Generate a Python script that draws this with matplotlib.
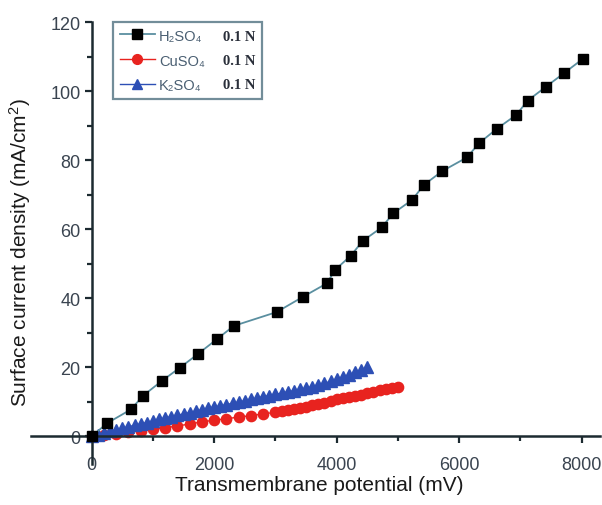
import matplotlib
matplotlib.use("Agg")
import matplotlib.pyplot as plt
from matplotlib.lines import Line2D

plt.rcParams['font.family'] = ['Liberation Sans', 'DejaVu Sans']
plt.rcParams['mathtext.fontset'] = 'custom'
plt.rcParams['mathtext.rm'] = 'Liberation Sans'
plt.rcParams['mathtext.it'] = 'Liberation Sans:italic'
plt.rcParams['mathtext.bf'] = 'Liberation Sans:bold'

# ---------------- data ----------------
h2so4_x = [0, 250, 640, 840, 1140, 1440, 1730, 2040, 2320, 3020, 3448, 3838, 3979,
           4229, 4425, 4734, 4924, 5233, 5423, 5722, 6129, 6324, 6617, 6933, 7117,
           7421, 7720, 8018]
h2so4_y = [0, 3.8, 7.8, 11.8, 16.0, 19.9, 23.8, 28.1, 32.0, 36.0, 40.4, 44.3, 48.3,
           52.3, 56.6, 60.5, 64.6, 68.5, 72.8, 76.8, 80.8, 84.9, 89.1, 93.1, 97.2,
           101.3, 105.3, 109.3]

k2so4_x = [0, 100, 200, 300, 400, 500, 600, 700, 800, 900, 1000, 1100, 1200, 1300,
           1400, 1500, 1600, 1700, 1800, 1900, 2000, 2100, 2200, 2300, 2400, 2500,
           2600, 2700, 2800, 2900, 3000, 3100, 3200, 3300, 3400, 3500, 3600, 3700,
           3800, 3900, 4000, 4100, 4200, 4300, 4400, 4500]
k2so4_y = [0, 0.5, 1.0, 1.5, 1.9, 2.3, 2.8, 3.2, 3.6, 4.0, 4.4, 4.9, 5.3, 5.7,
           6.1, 6.5, 6.9, 7.3, 7.7, 8.1, 8.5, 8.8, 9.2, 9.6, 9.9, 10.3,
           10.7, 11.1, 11.5, 11.8, 12.2, 12.5, 12.9, 13.2, 13.6, 13.9, 14.4, 14.9,
           15.4, 15.9, 16.5, 17.1, 17.8, 18.5, 19.2, 20.0]

cuso4_x = [0, 200, 400, 600, 800, 1000, 1200, 1400, 1600, 1800, 2000, 2200, 2400,
           2600, 2800, 3000, 3100, 3200, 3300, 3400, 3500, 3600, 3700, 3800, 3900,
           4000, 4100, 4200, 4300, 4400, 4500, 4600, 4700, 4800, 4900, 5000]
cuso4_y = [0, 0.4, 0.8, 1.2, 1.6, 2.0, 2.5, 3.0, 3.6, 4.2, 4.7, 5.1, 5.6,
           6.0, 6.5, 7.0, 7.3, 7.6, 7.9, 8.2, 8.6, 9.0, 9.4, 9.8, 10.2,
           10.7, 11.0, 11.4, 11.7, 12.1, 12.5, 12.9, 13.3, 13.6, 14.0, 14.3]

series_labels = ['H₂SO₄', 'CuSO₄', 'K₂SO₄']
conc_label = '0.1 N'
x_ticks = [0, 2000, 4000, 6000, 8000]
x_minor = [1000, 3000, 5000, 7000]
y_ticks = [0, 20, 40, 60, 80, 100, 120]
y_minor = [10, 30, 50, 70, 90, 110]
xlabel = 'Transmembrane potential (mV)'
ylabel = 'Surface current density (mA/cm$^2$)'

# ---------------- figure ----------------
W, H = 602, 506
fig = plt.figure(figsize=(W / 100, H / 100), dpi=100)
L, R, T, B = 30.5, 600, 23, 465
ax = fig.add_axes([L / W, 1 - B / H, (R - L) / W, (B - T) / H])
ax.set_xlim(-1000, 8300)
ax.set_ylim(-8, 120)

spine_col = '#1c2a30'
tick_col = '#3a4450'

l1, = ax.plot(h2so4_x, h2so4_y, color='#5a8fa0', lw=1.3, marker='s', ms=7.4,
              mfc='black', mec='black', zorder=3)
l2, = ax.plot(cuso4_x, cuso4_y, color='#e8231f', lw=1.0, marker='o', ms=7.4,
              mfc='#e8231f', mec='#e8231f', zorder=2)
l3, = ax.plot(k2so4_x, k2so4_y, color='#2d4fb5', lw=1.0, marker='^', ms=8.2,
              mfc='#2d4fb5', mec='#2d4fb5', zorder=2.5)

for s in ['top', 'right']:
    ax.spines[s].set_visible(False)
for s in ['left', 'bottom']:
    ax.spines[s].set_position(('data', 0))
    ax.spines[s].set_color(spine_col)
    ax.spines[s].set_linewidth(1.8)
ax.spines['left'].set_bounds(-8, 120)
ax.spines['bottom'].set_bounds(-1000, 8300)

ax.set_xticks(x_ticks)
ax.set_xticks(x_minor, minor=True)
ax.set_yticks(y_ticks)
ax.set_yticks(y_minor, minor=True)
ax.tick_params(axis='both', which='major', direction='out', length=5, width=1.6,
               color=spine_col, labelsize=13, labelcolor=tick_col)
ax.tick_params(axis='both', which='minor', direction='out', length=3.5, width=1.6,
               color=spine_col)
ax.tick_params(axis='x', which='major', pad=9)
ax.tick_params(axis='y', which='major', pad=3)

ax.set_xlabel(xlabel, fontsize=15, color='#1a1a1a')
ax.set_ylabel(ylabel, fontsize=15, color='#1a1a1a')
ax.xaxis.set_label_coords(0.507, -0.026)
ax.yaxis.set_label_coords(0.004, 0.48)

# legend: two columns (series, concentration)
blank = Line2D([], [], linestyle='none', marker='none')
handles = [l1, l2, l3, blank, blank, blank]
labels = series_labels + [conc_label] * 3
leg = ax.legend(handles, labels, ncols=2, loc='upper left',
                bbox_to_anchor=(0.145, 1.0), borderaxespad=0,
                fontsize=10.5, frameon=True, fancybox=False,
                handlelength=2.4, handletextpad=0.3, columnspacing=-1.45,
                labelspacing=0.75, borderpad=0.45, markerscale=0.95)
leg.get_frame().set_edgecolor('#4f7180')
leg.get_frame().set_linewidth(1.6)
for i, t in enumerate(leg.get_texts()):
    if i < 3:
        t.set_color('#4a5f72')
    else:
        t.set_fontfamily('Liberation Serif')
        t.set_fontweight('bold')
        t.set_color('#2a2f3a')

fig.savefig('out.png', dpi=100)
